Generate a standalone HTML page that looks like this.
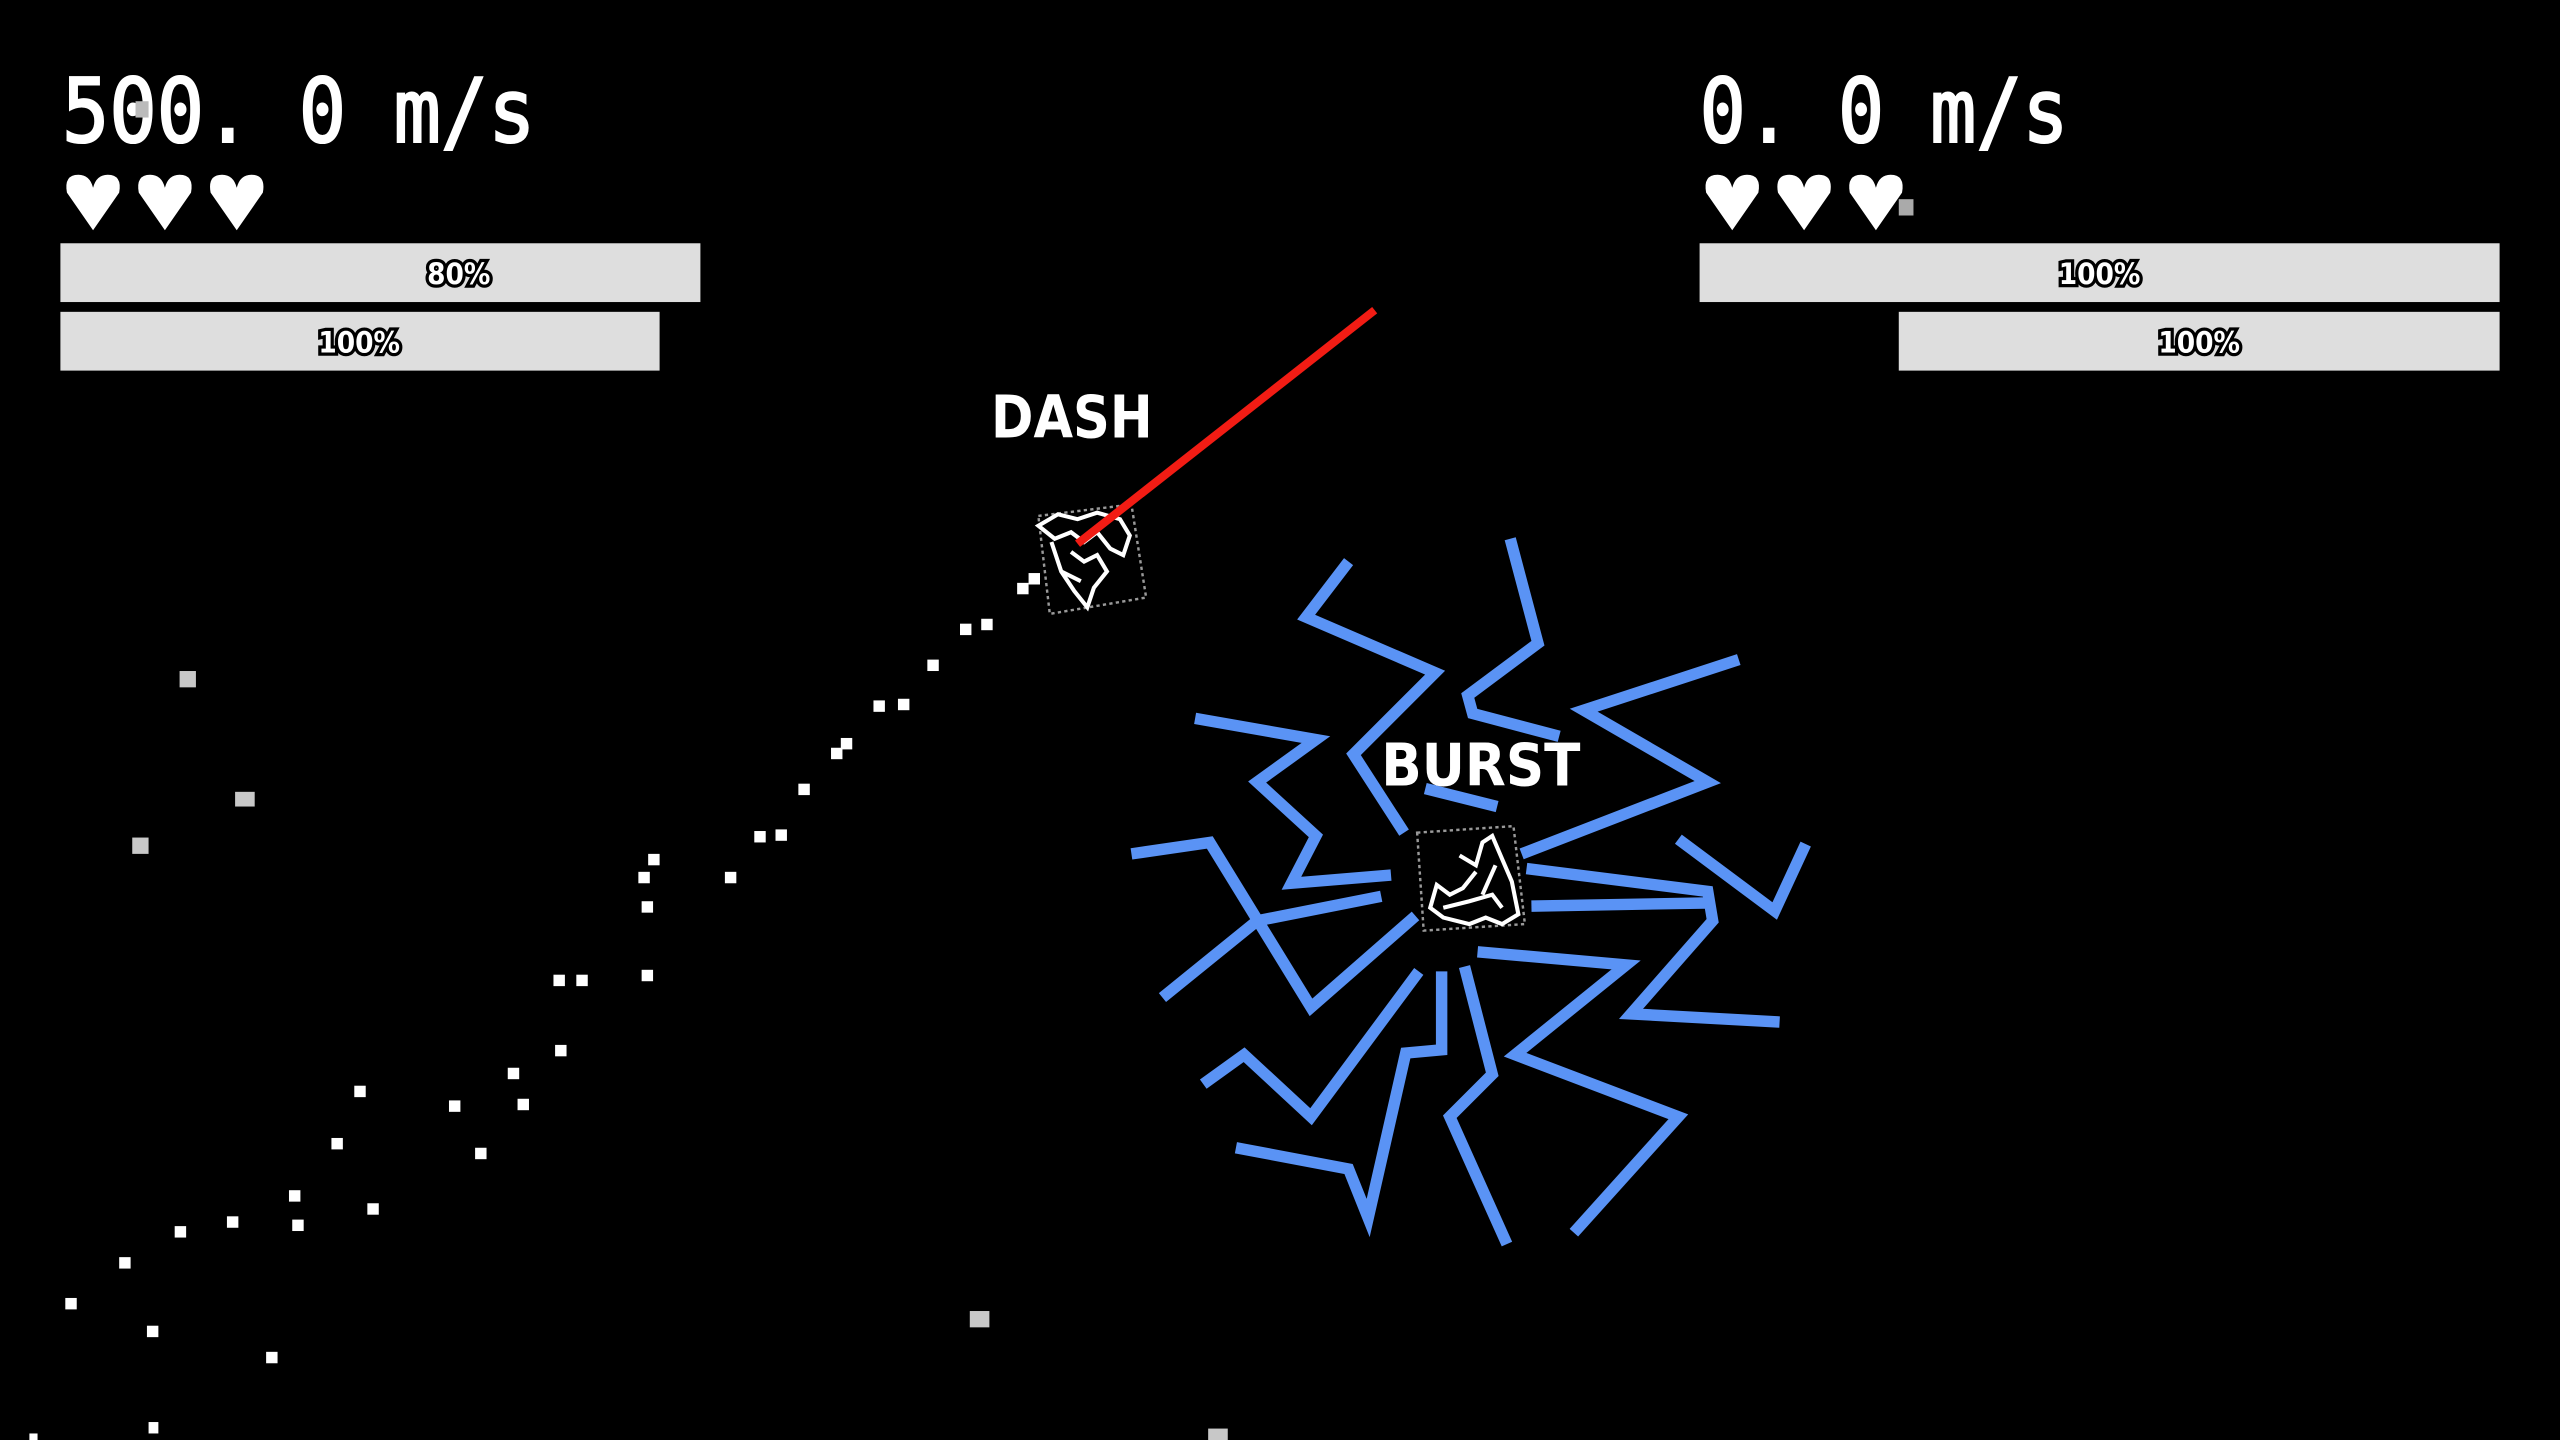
<!DOCTYPE html>
<html><head><meta charset="utf-8"><style>
html,body{margin:0;padding:0;background:#000;width:2560px;height:1440px;overflow:hidden}
svg{display:block}
.hud{font-family:"DejaVu Sans Mono","Liberation Mono",monospace;fill:#fff;stroke:#fff;stroke-width:1.3}
.lbl{font-family:"DejaVu Sans Condensed","DejaVu Sans","Liberation Sans",sans-serif;font-weight:bold;fill:#fff;stroke:#000;stroke-width:4;paint-order:stroke;font-size:18px}
.big{font-family:"DejaVu Sans","Liberation Sans",sans-serif;font-weight:bold;fill:#fff;font-size:36px}
.bolt{fill:none;stroke:#5a93f5;stroke-width:7;stroke-linejoin:miter;stroke-linecap:butt}
</style></head><body>
<svg width="2560" height="1440" viewBox="0 0 1568 882" preserveAspectRatio="none">
<rect width="1568" height="882" fill="#000"/>
<!-- HUD left -->
<text class="hud" x="38" y="87" font-size="54" textLength="290" lengthAdjust="spacingAndGlyphs">500. 0 m/s</text>
<rect x="83" y="62" width="8" height="10" fill="#bbb"/>
<g fill="#fff">
<path d="M57,141 L41,118 Q39,107 48,107 Q55,107 57,115 Q59,107 66,107 Q75,107 73,118 Z"/>
<path d="M101,141 L85,118 Q83,107 92,107 Q99,107 101,115 Q103,107 110,107 Q119,107 117,118 Z"/>
<path d="M145,141 L129,118 Q127,107 136,107 Q143,107 145,115 Q147,107 154,107 Q163,107 161,118 Z"/>
</g>
<rect x="37" y="149" width="392" height="36" fill="#dedede"/>
<rect x="37" y="191" width="367" height="36" fill="#dedede"/>
<text class="lbl" x="281" y="174" text-anchor="middle">80%</text>
<text class="lbl" x="220" y="216" text-anchor="middle">100%</text>
<!-- HUD right -->
<text class="hud" x="1041" y="87" font-size="54" textLength="226" lengthAdjust="spacingAndGlyphs">0. 0 m/s</text>
<g fill="#fff">
<path d="M1061,141 L1045,118 Q1043,107 1052,107 Q1059,107 1061,115 Q1063,107 1070,107 Q1079,107 1077,118 Z"/>
<path d="M1105,141 L1089,118 Q1087,107 1096,107 Q1103,107 1105,115 Q1107,107 1114,107 Q1123,107 1121,118 Z"/>
<path d="M1149,141 L1133,118 Q1131,107 1140,107 Q1147,107 1149,115 Q1151,107 1158,107 Q1167,107 1165,118 Z"/>
</g>
<rect x="1163" y="122" width="9" height="10" fill="#aaa"/>
<rect x="1041" y="149" width="490" height="36" fill="#dedede"/>
<rect x="1163" y="191" width="368" height="36" fill="#dedede"/>
<text class="lbl" x="1286" y="174" text-anchor="middle">100%</text>
<text class="lbl" x="1347" y="216" text-anchor="middle">100%</text>
<!-- labels -->
<text class="big" x="607" y="268" textLength="99" lengthAdjust="spacingAndGlyphs">DASH</text>
<!-- bolts -->
<g class="bolt">
<polyline points="826,344 800,378 879,412 829,462 860,510"/>
<polyline points="925,330 942,394 899,426 902,437 955,451"/>
<polyline points="873,483 917,494"/>
<polyline points="1065,404 970,435 1046,479 932,523"/>
<polyline points="732,440 806,453 770,479 806,512 791,541 852,536"/>
<polyline points="693,523 741,516 803,617 867,561"/>
<polyline points="846,549 770,564 712,611"/>
<polyline points="737,664 762,646 803,684 869,595"/>
<polyline points="757,703 826,716 838,746 861,645 883,643 883,595"/>
<polyline points="897,592 914,658 888,684 923,762"/>
<polyline points="905,583 996,591 928,646 1028,684 964,755"/>
<polyline points="935,532 1046,546 1049,564 999,621 1090,626"/>
<polyline points="938,555 1049,553"/>
<polyline points="1028,514 1087,558 1106,517"/>
</g>
<text class="big" x="846" y="481" textLength="122" lengthAdjust="spacingAndGlyphs">BURST</text>
<!-- dash ship -->
<polygon points="636,316 693,309 702,366 643,376" fill="none" stroke="#999" stroke-width="1.5" stroke-dasharray="2,2"/>
<g fill="none" stroke="#fff" stroke-width="2.5">
<path d="M636,322 L648,315 L660,318 L672,314 L686,318 L692,328 L688,340 L680,336 L672,326 L664,332 L656,326 L646,330 Z"/>
<path d="M644,332 L650,350 L658,362 L666,372 L670,360 L678,350 L672,340 L664,344 L656,338"/>
<path d="M650,350 L662,356"/>
</g>
<line x1="842" y1="190" x2="660" y2="333" stroke="#f21c14" stroke-width="5"/>
<!-- burst ship -->
<polygon points="868,510 927,506 934,566 872,570" fill="none" stroke="#999" stroke-width="1.5" stroke-dasharray="2,2"/>
<g fill="none" stroke="#fff" stroke-width="2.5">
<path d="M894,524 L904,530 L908,516 L914,512 L920,526 L926,540 L930,560 L920,566 L910,562 L900,566 L884,562 L876,556 L880,542 L888,548 L896,544 L904,534"/>
<path d="M884,556 L900,552 L914,548 L920,556"/>
<path d="M908,548 L916,530"/>
</g>
<!-- particles -->
<g fill="#fff">
<rect x="40" y="795" width="7" height="7"/><rect x="73" y="770" width="7" height="7"/><rect x="90" y="812" width="7" height="7"/>
<rect x="107" y="751" width="7" height="7"/><rect x="139" y="745" width="7" height="7"/><rect x="163" y="828" width="7" height="7"/>
<rect x="177" y="729" width="7" height="7"/><rect x="179" y="747" width="7" height="7"/><rect x="203" y="697" width="7" height="7"/>
<rect x="217" y="665" width="7" height="7"/><rect x="225" y="737" width="7" height="7"/><rect x="275" y="674" width="7" height="7"/>
<rect x="291" y="703" width="7" height="7"/><rect x="311" y="654" width="7" height="7"/><rect x="317" y="673" width="7" height="7"/>
<rect x="339" y="597" width="7" height="7"/><rect x="353" y="597" width="7" height="7"/><rect x="340" y="640" width="7" height="7"/>
<rect x="393" y="594" width="7" height="7"/><rect x="393" y="552" width="7" height="7"/><rect x="391" y="534" width="7" height="7"/>
<rect x="397" y="523" width="7" height="7"/><rect x="444" y="534" width="7" height="7"/><rect x="462" y="509" width="7" height="7"/>
<rect x="475" y="508" width="7" height="7"/><rect x="489" y="480" width="7" height="7"/><rect x="509" y="458" width="7" height="7"/>
<rect x="515" y="452" width="7" height="7"/><rect x="535" y="429" width="7" height="7"/><rect x="550" y="428" width="7" height="7"/>
<rect x="568" y="404" width="7" height="7"/><rect x="588" y="382" width="7" height="7"/><rect x="601" y="379" width="7" height="7"/>
<rect x="623" y="357" width="7" height="7"/><rect x="630" y="351" width="7" height="7"/><rect x="91" y="871" width="6" height="7"/>
<rect x="18" y="878" width="5" height="4"/>
</g>
<g fill="#c8c8c8">
<rect x="110" y="411" width="10" height="10"/><rect x="144" y="485" width="12" height="9"/><rect x="81" y="513" width="10" height="10"/>
<rect x="594" y="803" width="12" height="10"/><rect x="740" y="875" width="12" height="7"/>
</g>
</svg>
</body></html>
